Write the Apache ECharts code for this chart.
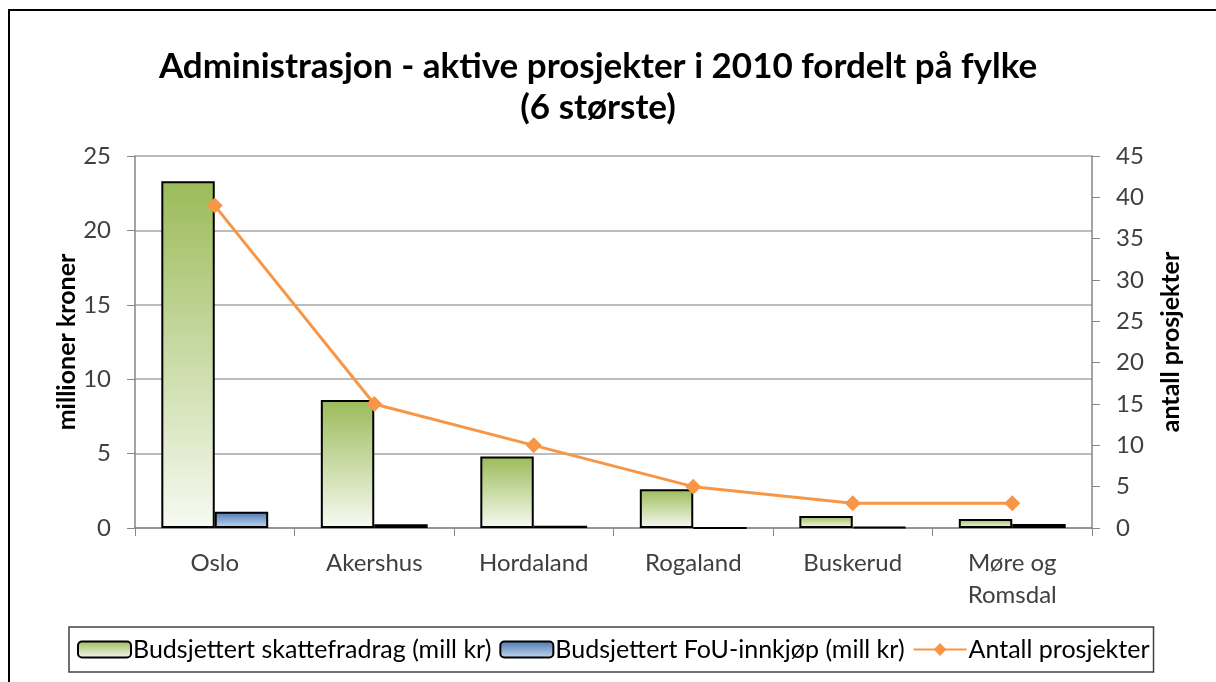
<!DOCTYPE html>
<html>
<head>
<meta charset="utf-8">
<script src="https://cdn.jsdelivr.net/npm/echarts@6/dist/echarts.min.js"></script>
<style>
  html, body { margin: 0; padding: 0; background: #fff; }
  #chart { width: 1216px; height: 682px; }
</style>
</head>
<body>
<div id="chart"></div>
<script>
// fylker (kategorier)
var categories = ['Oslo', 'Akershus', 'Hordaland', 'Rogaland', 'Buskerud', 'Møre og\nRomsdal']
// millioner kroner
var skattefradrag = [23.3, 8.6, 4.8, 2.6, 0.8, 0.6]
var fouInnkjop = [1.1, 0.25, 0.15, 0, 0.08, 0.27]
// antall prosjekter (høyre akse)
var antallProsjekter = [39, 15, 10, 5, 3, 3]

var seriesNames = [
  'Budsjettert skattefradrag (mill kr)',
  'Budsjettert FoU-innkjøp (mill kr)',
  'Antall prosjekter'
]

var font = 'Lato'
var chart = echarts.init(document.getElementById('chart'))

chart.setOption({
  backgroundColor: '#fff',
  animation: false,
  title: {
    text: 'Administrasjon - aktive prosjekter i 2010 fordelt på fylke\n(6 største)',
    left: 593,
    top: 41,
    textAlign: 'center',
    textStyle: {
      fontFamily: font,
      fontSize: 35,
      fontWeight: 'bold',
      lineHeight: 41,
      color: '#000'
    }
  },
  // ramme rundt diagrammet (bare venstre og topp synlig)
  graphic: [{
    type: 'rect',
    shape: { x: 9, y: 10, width: 1300, height: 800 },
    style: { fill: 'none', stroke: '#000', lineWidth: 2 },
    silent: true
  }],
  legend: {
    data: seriesNames,
    left: 69,
    top: 627,
    orient: 'horizontal',
    itemWidth: 53,
    itemHeight: 16,
    itemGap: 8,
    padding: [10, 4, 10, 8],
    borderColor: '#404040',
    borderWidth: 1.5,
    textStyle: {
      fontFamily: font,
      fontSize: 25,
      color: '#000',
      padding: [0, 0, 0, -3]
    }
  },
  grid: {
    left: 135,
    right: 124,
    top: 156,
    bottom: 154
  },
  xAxis: {
    type: 'category',
    data: categories,
    axisLine: { lineStyle: { color: '#868686', width: 1.5 } },
    axisTick: {
      show: true,
      length: 8,
      lineStyle: { color: '#868686' }
    },
    axisLabel: {
      fontFamily: font,
      fontSize: 24,
      color: '#404040',
      margin: 19,
      lineHeight: 32
    }
  },
  yAxis: [{
    type: 'value',
    min: 0,
    max: 25,
    interval: 5,
    name: 'millioner kroner',
    nameLocation: 'middle',
    nameRotate: 90,
    nameGap: 56,
    nameMoveOverlap: false,
    nameTextStyle: {
      fontFamily: font,
      fontSize: 25,
      fontWeight: 'bold',
      color: '#000'
    },
    axisLine: { show: true, lineStyle: { color: '#868686', width: 1.5 } },
    axisTick: { show: true, length: 8, lineStyle: { color: '#868686' } },
    axisLabel: {
      fontFamily: font,
      fontSize: 24,
      color: '#404040',
      margin: 24
    },
    splitLine: {
      show: true,
      lineStyle: { color: '#a6a6a6', width: 1.5 }
    }
  }, {
    type: 'value',
    min: 0,
    max: 45,
    interval: 5,
    name: 'antall prosjekter',
    nameLocation: 'middle',
    nameRotate: 90,
    nameGap: 66,
    nameMoveOverlap: false,
    nameTextStyle: {
      fontFamily: font,
      fontSize: 25,
      fontWeight: 'bold',
      color: '#000'
    },
    axisLine: { show: true, lineStyle: { color: '#868686', width: 1.5 } },
    axisTick: { show: true, length: 8, lineStyle: { color: '#868686' } },
    axisLabel: {
      fontFamily: font,
      fontSize: 24,
      color: '#404040',
      margin: 24
    },
    splitLine: { show: false }
  }],
  series: [{
    name: seriesNames[0],
    type: 'bar',
    data: skattefradrag,
    barGap: '0%',
    barCategoryGap: '33%',
    itemStyle: {
      color: new echarts.graphic.LinearGradient(0, 0, 0, 1, [
        { offset: 0, color: '#9bbb59' },
        { offset: 1, color: '#f7faf2' }
      ]),
      borderColor: '#000',
      borderWidth: 2
    }
  }, {
    name: seriesNames[1],
    type: 'bar',
    data: fouInnkjop,
    itemStyle: {
      color: new echarts.graphic.LinearGradient(0, 0, 0, 1, [
        { offset: 0, color: '#4a76b0' },
        { offset: 1, color: '#c6d9f1' }
      ]),
      borderColor: '#000',
      borderWidth: 2
    }
  }, {
    name: seriesNames[2],
    type: 'line',
    yAxisIndex: 1,
    data: antallProsjekter,
    symbol: 'diamond',
    symbolSize: 16,
    lineStyle: { color: '#f79646', width: 3 },
    itemStyle: { color: '#f79646' }
  }]
})
</script>
</body>
</html>
